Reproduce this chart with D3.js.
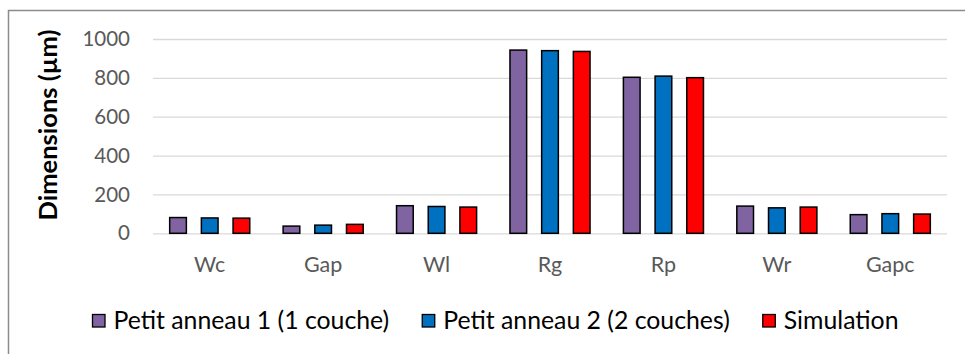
<!DOCTYPE html>
<html>
<head>
<meta charset="utf-8">
<script src="https://cdn.jsdelivr.net/npm/d3@7"></script>
<style>
  html, body { margin: 0; padding: 0; background: #fff; }
  svg { display: block; font-family: Lato, "Open Sans", sans-serif; }
</style>
</head>
<body>
<svg id="chart" width="965" height="354"></svg>
<script>
// Dimensions of the ring resonator elements, in micrometres
const categories = ["Wc", "Gap", "Wl", "Rg", "Rp", "Wr", "Gapc"];
const seriesNames = ["Petit anneau 1 (1 couche)", "Petit anneau 2 (2 couches)", "Simulation"];
const anneau1 = [81, 37, 142, 943, 803, 140, 96];
const anneau2 = [79, 42, 138, 940, 809, 131, 101];
const simulation = [78, 46, 135, 936, 801, 135, 99];
const yTicks = [0, 200, 400, 600, 800, 1000];
const colors = ["#8064A2", "#0070C0", "#FF0000"];

const seriesValues = [anneau1, anneau2, simulation];

const svg = d3.select("#chart");

// Chart frame (only top and left edges fall inside the window)
svg.append("rect")
  .attr("x", 8.5).attr("y", 10.5)
  .attr("width", 1000).attr("height", 400)
  .attr("fill", "#fff")
  .attr("stroke", "#8c8c8c")
  .attr("stroke-width", 1.5);

const plot = { left: 153, right: 947, top: 39, bottom: 233.3 };

const x = d3.scaleBand()
  .domain(categories)
  .range([plot.left, plot.right])
  .paddingInner(0).paddingOuter(0);

const y = d3.scaleLinear()
  .domain([0, 1000])
  .range([plot.bottom, plot.top]);

// Bars are one "gap unit" wide: 2 units of gap between groups, 0.9 between bars
const barW = x.bandwidth() / 6.8;
const inner = d3.scaleBand()
  .domain(d3.range(seriesNames.length))
  .range([0, barW * 4.8])
  .paddingInner(0.9 / 1.9)
  .paddingOuter(0);

// Gridlines and value labels
const yAxis = d3.axisLeft(y)
  .tickValues(yTicks)
  .tickFormat(d3.format("d"))
  .tickSize(-(plot.right - plot.left))
  .tickPadding(23);

const gy = svg.append("g")
  .attr("transform", `translate(${plot.left},0)`)
  .call(yAxis);
gy.select(".domain").remove();
gy.selectAll(".tick line")
  .attr("stroke", "#d9d9d9")
  .attr("stroke-width", 1.3);
gy.selectAll(".tick text")
  .attr("fill", "#595959")
  .style("font-size", "20.5px")
  .style("font-family", "Lato, sans-serif");

// Category labels
const xAxis = d3.axisBottom(x).tickSize(0).tickPadding(0);
const gx = svg.append("g")
  .attr("transform", `translate(0,${plot.bottom})`)
  .call(xAxis);
gx.select(".domain").remove();
gx.selectAll(".tick text")
  .attr("y", 38.7)
  .attr("dy", null)
  .attr("fill", "#595959")
  .style("font-size", "21.5px")
  .style("font-family", "Lato, sans-serif");

// Bars
const groups = svg.append("g")
  .selectAll("g")
  .data(seriesValues)
  .join("g")
  .attr("fill", (d, i) => colors[i]);

groups.selectAll("rect")
  .data((vals, si) => vals.map((v, ci) => ({ v, ci, si })))
  .join("rect")
  .attr("x", d => x(categories[d.ci]) + barW + inner(d.si))
  .attr("y", d => y(d.v))
  .attr("width", inner.bandwidth())
  .attr("height", d => y(0) - y(d.v))
  .attr("stroke", "#000")
  .attr("stroke-width", 1.5);

// Y axis title
svg.append("text")
  .attr("transform", "translate(57,125) rotate(-90)")
  .attr("text-anchor", "middle")
  .attr("fill", "#000")
  .style("font-weight", "bold")
  .style("font-size", "25.5px")
  .text("Dimensions (µm)");

// Legend
const legend = svg.append("g");
let lx = 92.5;
seriesNames.forEach((name, i) => {
  legend.append("rect")
    .attr("x", lx).attr("y", 314.5)
    .attr("width", 12.5).attr("height", 12.5)
    .attr("fill", colors[i])
    .attr("stroke", "#000")
    .attr("stroke-width", 1.3);
  const t = legend.append("text")
    .attr("x", lx + 21)
    .attr("y", 329)
    .attr("fill", "#000")
    .style("font-size", "24.8px")
    .text(name);
  lx += 21 + t.node().getComputedTextLength() + 33;
});
</script>
</body>
</html>
